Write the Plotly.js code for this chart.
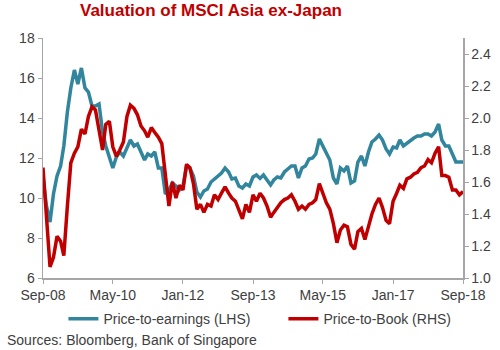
<!DOCTYPE html>
<html>
<head>
<meta charset="utf-8">
<script src="https://cdn.plot.ly/plotly-3.0.1.min.js"></script>
<style>html,body{margin:0;padding:0;background:#fff;}#chart{width:500px;height:350px;}</style>
</head>
<body>
<div id="chart"></div>
<script>
const dates = [
"2008-09","2008-10","2008-11","2008-12",
"2009-01","2009-02","2009-03","2009-04","2009-05","2009-06","2009-07","2009-08","2009-09","2009-10","2009-11","2009-12",
"2010-01","2010-02","2010-03","2010-04","2010-05","2010-06","2010-07","2010-08","2010-09","2010-10","2010-11","2010-12",
"2011-01","2011-02","2011-03","2011-04","2011-05","2011-06","2011-07","2011-08","2011-09","2011-10","2011-11","2011-12",
"2012-01","2012-02","2012-03","2012-04","2012-05","2012-06","2012-07","2012-08","2012-09","2012-10","2012-11","2012-12",
"2013-01","2013-02","2013-03","2013-04","2013-05","2013-06","2013-07","2013-08","2013-09","2013-10","2013-11","2013-12",
"2014-01","2014-02","2014-03","2014-04","2014-05","2014-06","2014-07","2014-08","2014-09","2014-10","2014-11","2014-12",
"2015-01","2015-02","2015-03","2015-04","2015-05","2015-06","2015-07","2015-08","2015-09","2015-10","2015-11","2015-12",
"2016-01","2016-02","2016-03","2016-04","2016-05","2016-06","2016-07","2016-08","2016-09","2016-10","2016-11","2016-12",
"2017-01","2017-02","2017-03","2017-04","2017-05","2017-06","2017-07","2017-08","2017-09","2017-10","2017-11","2017-12",
"2018-01","2018-02","2018-03","2018-04","2018-05","2018-06","2018-07","2018-08","2018-09"
];
const priceToEarnings = [
11.0,9.6,8.8,10.2,
11.1,11.6,12.6,14.3,15.5,16.4,15.7,16.5,15.5,15.3,14.6,14.6,
14.7,13.3,12.6,12.1,11.5,12.05,12.3,12.1,12.5,12.9,12.6,12.7,
12.3,11.9,12.2,12.1,12.3,11.5,11.5,10.2,10.4,10.75,10.6,10.4,
10.6,11.6,11.5,11.1,10.3,10.05,10.35,10.45,10.8,10.95,11.1,11.25,
11.5,11.3,10.95,11.0,10.6,10.5,10.7,10.6,11.05,11.15,10.98,11.15,
10.9,10.65,10.9,11.05,11.0,11.3,11.45,11.6,11.6,11.0,11.5,11.6,
11.95,12.0,12.2,12.95,12.6,12.2,11.9,11.0,10.7,11.5,11.35,11.6,
10.75,10.85,11.8,12.1,11.6,12.3,12.8,12.95,13.15,12.9,12.45,12.2,
12.55,12.5,12.9,12.6,12.75,12.85,13.0,13.1,13.1,13.2,13.2,13.1,
13.3,13.7,12.9,12.6,12.6,12.2,11.8,11.8,11.8
];
const priceToBook = [
1.69,1.40,1.07,1.13,
1.26,1.23,1.14,1.45,1.72,1.78,1.82,1.93,1.90,2.01,2.07,2.05,
1.93,1.80,1.96,1.98,1.82,1.76,1.80,1.85,2.01,2.08,2.06,2.02,
1.95,1.92,1.88,1.94,1.91,1.88,1.84,1.62,1.45,1.60,1.50,1.58,
1.55,1.71,1.69,1.59,1.43,1.46,1.41,1.46,1.45,1.52,1.49,1.53,
1.57,1.53,1.50,1.48,1.43,1.37,1.46,1.41,1.52,1.48,1.53,1.50,
1.45,1.38,1.41,1.44,1.47,1.49,1.50,1.52,1.48,1.43,1.45,1.43,
1.46,1.47,1.49,1.59,1.53,1.47,1.43,1.34,1.22,1.30,1.33,1.32,
1.21,1.18,1.29,1.31,1.24,1.33,1.40,1.46,1.50,1.44,1.36,1.34,
1.48,1.53,1.58,1.56,1.62,1.63,1.65,1.66,1.69,1.70,1.74,1.72,
1.78,1.82,1.64,1.64,1.63,1.55,1.55,1.52,1.54
];
const xTickVals = ["2008-09-01","2010-05-01","2012-01-01","2013-09-01","2015-05-01","2017-01-01","2018-09-01"];
const xTickText = ["Sep-08","May-10","Jan-12","Sep-13","May-15","Jan-17","Sep-18"];
const leftTicks = [6,8,10,12,14,16,18];
const rightTicks = [1.0,1.2,1.4,1.6,1.8,2.0,2.2,2.4];
const rightTickText = ["1.0","1.2","1.4","1.6","1.8","2.0","2.2","2.4"];

const font = "Liberation Sans, Arial, sans-serif";
const traces = [
  {x: dates, y: priceToEarnings, name: "Price-to-earnings (LHS)", type: "scatter", mode: "lines",
   line: {color: "#31859C", width: 3.5}, yaxis: "y", legend: "legend"},
  {x: dates, y: priceToBook, name: "Price-to-Book (RHS)", type: "scatter", mode: "lines",
   line: {color: "#C00000", width: 3.5}, yaxis: "y2", legend: "legend2"}
];
const axisCommon = {showgrid: false, zeroline: false, showline: true, linecolor: "#A6A6A6", linewidth: 1.5,
  ticks: "outside", ticklen: 4, tickcolor: "#A6A6A6", tickfont: {family: font, size: 14, color: "#404040"}};
const legendCommon = {orientation: "h", xanchor: "left", y: -0.171, yanchor: "middle",
  font: {family: font, size: 14, color: "#404040"}, bgcolor: "rgba(0,0,0,0)"};
const layout = {
  width: 500, height: 350,
  margin: {l: 43, r: 37, t: 38, b: 72},
  paper_bgcolor: "#fff", plot_bgcolor: "#fff",
  font: {family: font, color: "#404040"},
  title: {text: "<b>Valuation of MSCI Asia ex-Japan</b>", font: {family: font, size: 17, color: "#C00000"},
          xref: "container", yref: "container", x: 0.16, xanchor: "left", y: 0.971, yanchor: "middle"},
  xaxis: Object.assign({}, axisCommon, {type: "date", range: ["2008-09-01","2018-09-01"],
          tickvals: xTickVals, ticktext: xTickText}),
  yaxis: Object.assign({}, axisCommon, {range: [6, 18], tickvals: leftTicks}),
  yaxis2: Object.assign({}, axisCommon, {range: [1.0, 2.5], overlaying: "y", side: "right",
          tickvals: rightTicks, ticktext: rightTickText}),
  showlegend: true,
  legend: Object.assign({}, legendCommon, {x: 0.0486}),
  legend2: Object.assign({}, legendCommon, {x: 0.5724}),
  annotations: [{text: "Sources: Bloomberg, Bank of Singapore", xref: "paper", yref: "paper",
                 x: -0.0905, xanchor: "left", y: -0.258, yanchor: "middle", showarrow: false,
                 font: {family: font, size: 14, color: "#404040"}}]
};
Plotly.newPlot("chart", traces, layout, {displayModeBar: false, staticPlot: true});
</script>
</body>
</html>
